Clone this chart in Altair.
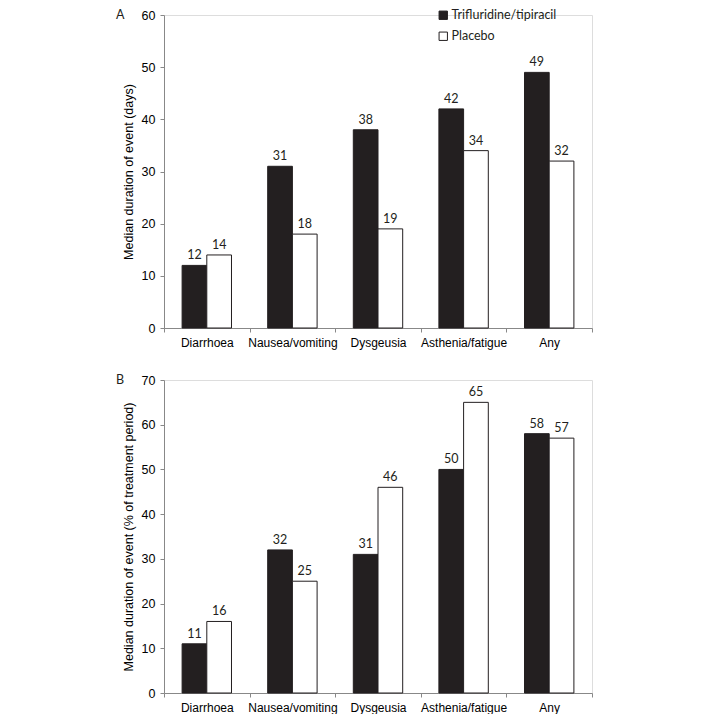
import altair as alt
import pandas as pd

categories = ["Diarrhoea", "Nausea/vomiting", "Dysgeusia", "Asthenia/fatigue", "Any"]
groups = ["Trifluridine/tipiracil", "Placebo"]
days_tt = [12, 31, 38, 42, 49]
days_pl = [14, 18, 19, 34, 32]
pct_tt = [11, 32, 31, 50, 58]
pct_pl = [16, 25, 46, 65, 57]
y_ticks_a = [0, 10, 20, 30, 40, 50, 60]
y_ticks_b = [0, 10, 20, 30, 40, 50, 60, 70]

FONT = "Lato"
INK = "#231f20"
AXIS = "#3a3a3a"
W, H = 428, 313


def frame(tt, pl):
    rows = []
    for c, a, b in zip(categories, tt, pl):
        rows.append({"category": c, "group": groups[0], "value": a})
        rows.append({"category": c, "group": groups[1], "value": b})
    return pd.DataFrame(rows)


def panel(df, ticks, ytitle, letter, show_legend):
    x = alt.X(
        "category:N", sort=categories,
        scale=alt.Scale(paddingInner=0, paddingOuter=0),
        axis=alt.Axis(title=None, labelAngle=0, tickBand="extent", tickSize=4,
                      labelPadding=5, labelFontSize=12),
    )
    xo = alt.XOffset("group:N", sort=groups,
                     scale=alt.Scale(paddingInner=0, paddingOuter=0.733))
    y = alt.Y(
        "value:Q",
        scale=alt.Scale(domain=[ticks[0], ticks[-1]], nice=False),
        axis=alt.Axis(values=ticks, title=ytitle, grid=False, tickSize=4,
                      labelPadding=5, labelFontSize=12.5, titleFontSize=12.5,
                      titleFontWeight="normal", titlePadding=6),
    )
    if show_legend:
        leg = alt.Legend(orient="none", legendX=273, legendY=-6, title=None,
                         symbolType="square", symbolSize=70,
                         symbolStrokeColor=INK, symbolStrokeWidth=1,
                         labelFontSize=12.5, labelFont=FONT, labelColor=INK,
                         rowPadding=8, labelOffset=2)
    else:
        leg = None
    color = alt.Color("group:N", sort=groups,
                      scale=alt.Scale(domain=groups, range=[INK, "#ffffff"]),
                      legend=leg)
    base = alt.Chart(df)
    bars = base.mark_bar(stroke=INK, strokeWidth=1).encode(x=x, xOffset=xo, y=y, color=color)
    labels = base.mark_text(baseline="bottom", dy=-3, fontSize=12.5, font=FONT,
                            color=INK).encode(x=x, xOffset=xo, y=y, text="value:Q")
    tag = alt.Chart(pd.DataFrame({"t": [letter]})).mark_text(
        align="left", baseline="middle", fontSize=12.5, font=FONT, color=INK
    ).encode(x=alt.value(-48), y=alt.value(0), text="t:N")
    return alt.layer(bars, labels, tag).properties(width=W, height=H)


a = panel(frame(days_tt, days_pl), y_ticks_a, "Median duration of event (days)", "A", True)
b = panel(frame(pct_tt, pct_pl), y_ticks_b,
          "Median duration of event (% of treatment period)", "B", False)

chart = (
    alt.vconcat(a, b, spacing=24)
    .resolve_legend(color="independent")
    .properties(padding={"left": 107, "top": 0, "right": 0, "bottom": 0})
    .configure_view(stroke=None)
    .configure_axis(domainColor=AXIS, tickColor=AXIS, labelColor=INK, titleColor=INK,
                    labelFont=FONT, titleFont=FONT, domainWidth=1, tickWidth=1)
    .configure(background="white")
)

chart.save("out.html", embed_options={"renderer": "svg", "actions": False})
